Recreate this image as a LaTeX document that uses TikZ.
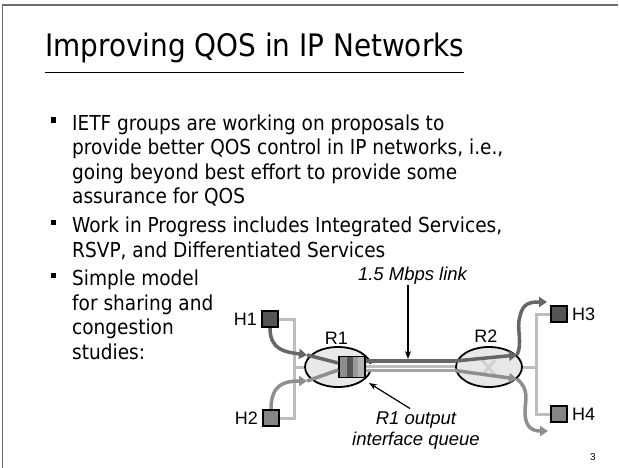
\documentclass[tikz,border=0pt]{standalone}
\usepackage{fontspec}
\setmainfont{DejaVu Sans Condensed}
\newfontfamily\arialfont{Liberation Sans}
\usetikzlibrary{arrows.meta,shapes.geometric,positioning}
\definecolor{hostdark}{HTML}{555555}
\definecolor{hostmid}{HTML}{858585}
\definecolor{pathlight}{HTML}{BDBDBD}
\definecolor{flowdark}{HTML}{666666}
\definecolor{flowmid}{HTML}{8E8E8E}
\definecolor{routerfill}{HTML}{E8E8E8}
\definecolor{framegray}{HTML}{6E6E6E}

\begin{document}
\begin{tikzpicture}[x=1pt, y=-1pt,
title_style/.style={anchor=base west, inner sep=0pt, font=\fontsize{31}{34}\selectfont},
item_style/.style={anchor=north west, inner sep=0pt, align=left, font=\fontsize{20.6}{24.5}\selectfont},
bullet_style/.style={fill=black, inner sep=0pt, minimum size=5.5pt},
host_style/.style={draw=black, line width=2pt, inner sep=0pt, minimum size=16pt},
router_style/.style={ellipse, draw=black, line width=1.8pt, fill=routerfill, inner sep=0pt, minimum width=66pt, minimum height=40pt},
label_style/.style={inner sep=0pt, font=\arialfont\fontsize{18}{20}\selectfont},
note_style/.style={inner sep=0pt, align=center, font=\arialfont\itshape\fontsize{18.5}{21}\selectfont},
wire_style/.style={draw=pathlight, line width=3pt},
flow_style/.style={line width=3.5pt, -{Triangle[length=8pt,width=10pt]}},
pointer_style/.style={draw=black, line width=1.2pt, -{Stealth[length=8pt,width=6pt]}}]
\useasboundingbox (0,0) rectangle (619,468);
\draw[framegray, line width=1.2pt] (2.5,468) -- (2.5,5) -- (618,5);

\node[title_style] (title) at (45,57) {Improving QOS in IP Networks};
\draw[line width=1.5pt] ([yshift=-8.7pt]title.south west) -- ([yshift=-8.7pt]title.south east);

\node[bullet_style] (b1) at (53.5,120) {};
\node[item_style] (item1) at (72,114.3) {IETF groups are working on proposals to\\provide better QOS control in IP networks, i.e.,\\going beyond best effort to provide some\\assurance for QOS};
\node[bullet_style] (b2) at (53.5,222.5) {};
\node[item_style] (item2) at (72,216.8) {Work in Progress includes Integrated Services,\\RSVP, and Differentiated Services};
\node[bullet_style] (b3) at (53.5,275.5) {};
\node[item_style] (item3) at (72,269.8) {Simple model\\for sharing and\\congestion\\studies:};

\node[router_style] (r1) at (338,367) {};
\node[router_style] (r2) at (489,367) {};
\node[label_style] (r1l) at (336.5,338) {R1};
\node[label_style] (r2l) at (486,336) {R2};

\node[host_style, fill=hostdark] (h1) at (270,319) {};
\node[host_style, fill=hostmid] (h2) at (271,418) {};
\node[host_style, fill=hostdark] (h3) at (559,314) {};
\node[host_style, fill=hostmid] (h4) at (559,414) {};
\node[label_style, left=4pt of h1] (h1l) {H1};
\node[label_style, left=4pt of h2] (h2l) {H2};
\node[label_style, right=4pt of h3] (h3l) {H3};
\node[label_style, right=4pt of h4] (h4l) {H4};

\coordinate (lwire) at (294,367);
\coordinate (rwire) at (536,367);
\draw[wire_style] (h1.east) -| (lwire) |- (h2.east);
\draw[wire_style] (lwire) -- (r1.west);
\draw[wire_style] (h3.west) -| (rwire) |- (h4.west);
\draw[wire_style] (rwire) -- (r2.east);
\draw[wire_style, draw=pathlight!70] (482,360) -- (495,375) (482,375) -- (495,360);

\node[draw=black, line width=1.5pt, minimum width=26pt, minimum height=21pt, inner sep=0pt,
  path picture={
    \fill[flowmid] (path picture bounding box.north west) rectangle ([xshift=8pt]path picture bounding box.south west);
    \fill[hostdark] ([xshift=8pt]path picture bounding box.north west) rectangle ([xshift=14pt]path picture bounding box.south west);
    \fill[flowmid!90] ([xshift=14pt]path picture bounding box.north west) rectangle ([xshift=19pt]path picture bounding box.south west);
    \fill[pathlight!80!flowmid] ([xshift=19pt]path picture bounding box.north west) rectangle (path picture bounding box.south east);
  }] (q) at (352,367) {};

\draw[line width=4pt, flowdark] ([yshift=6pt]q.east) -- ([yshift=6pt]r2.west);
\draw[line width=5pt, white] ([yshift=1pt]q.east) -- ([yshift=1pt]r2.west);
\draw[line width=3pt, pathlight] ([yshift=1pt]q.east) -- ([yshift=1pt]r2.west);
\draw[line width=3pt, flowmid!80] ([yshift=-3.5pt]q.east) -- ([yshift=-3.5pt]r2.west);

\coordinate (in1) at (307,355);
\coordinate (in2) at (307,381);
\draw[flow_style, flowdark] (h1.south) .. controls (270,350) and (285,352) .. (in1);
\draw[line width=3.5pt, flowdark] (in1) -- ([yshift=4pt]q.west);
\draw[flow_style, flowmid] (h2.north) .. controls (271,384) and (285,381) .. (in2);
\draw[line width=3.5pt, flowmid] (in2) -- ([yshift=-3pt]q.west);

\coordinate (out1) at (517,355);
\coordinate (out2) at (517,379);
\coordinate (to3) at (547,302);
\coordinate (to4) at (548,431);
\draw[flow_style, flowdark] ([yshift=6pt]r2.west) -- (out1);
\draw[flow_style, flowdark] (out1) .. controls (523,343) and (516,328) .. (520,316) .. controls (523,303) and (530,302) .. (to3);
\draw[flow_style, flowmid] ([yshift=-3.5pt]r2.west) -- (out2);
\draw[flow_style, flowmid] (out2) .. controls (530,390) and (525,400) .. (525,412) .. controls (525,428) and (533,431) .. (to4);

\node[note_style] (mbps) at (412.5,276) {1.5 Mbps link};
\coordinate (linktop) at (408,359);
\draw[pointer_style] (linktop |- mbps.south) -- (linktop);

\node[note_style] (qnote) at (416,430.5) {R1 output\\interface queue};
\coordinate (qtip) at (369,383);
\draw[pointer_style] ([xshift=-6pt,yshift=3pt]qnote.north) -- (qtip);

\node[inner sep=0pt, font=\arialfont\fontsize{10}{10}\selectfont] (page) at (593,457) {3};
\end{tikzpicture}
\end{document}
